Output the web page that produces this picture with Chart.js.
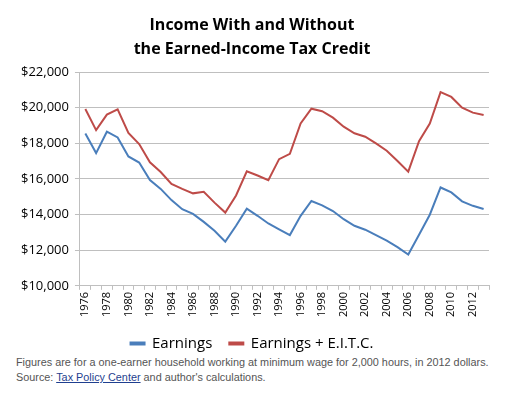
<!DOCTYPE html>
<html>
<head>
<meta charset="utf-8">
<script src="https://cdn.jsdelivr.net/npm/chart.js@4/dist/chart.umd.min.js"></script>
<style>
  body { margin: 0; background: #fff; }
  #wrap { position: relative; width: 526px; height: 393px; }
  #eitc-chart { position: absolute; left: 0; top: 0; }
  #note {
    position: absolute; left: 16px; top: 355px;
    font-family: "Liberation Sans", Arial, sans-serif; font-size: 10.85px;
    line-height: 15px; color: #555;
  }
  #note a { color: #1f3f8f; text-decoration: underline; }
</style>
</head>
<body>
<div id="wrap">
  <div id="note">
    Figures are for a one-earner household working at minimum wage for 2,000 hours, in 2012 dollars.<br>
    Source: <a href="#">Tax Policy Center</a> and author's calculations.
  </div>
  <canvas id="eitc-chart" width="526" height="361"></canvas>
</div>
<script>
// years on the category axis
const years = [];
for (let y = 1976; y <= 2013; y++) years.push(String(y));

// minimum-wage earnings, 2012 dollars
const earnings = [
  18550, 17450, 18650, 18330, 17260, 16920, 15940, 15440, 14810, 14300,
  14040, 13590, 13090, 12480, 13370, 14330, 13930, 13500, 13170, 12850,
  13930, 14760, 14520, 14200, 13740, 13370, 13150, 12840, 12540, 12170,
  11760, 12870, 13990, 15520, 15240, 14740, 14490, 14310
];

// earnings plus EITC
const earningsEitc = [
  19920, 18740, 19610, 19900, 18580, 17960, 16930, 16390, 15720, 15440,
  15190, 15280, 14670, 14110, 15070, 16430, 16190, 15930, 17110, 17410,
  19110, 19940, 19800, 19440, 18930, 18560, 18370, 17990, 17580, 17010,
  16410, 18120, 19110, 20870, 20600, 20000, 19720, 19590
];

const BLUE = "#4a7ebb";
const RED = "#be4b48";
const GRID = "#bfbfbf";
const FONT = "'Open Sans', sans-serif";

new Chart(document.getElementById("eitc-chart").getContext("2d"), {
  type: "line",
  data: {
    labels: years,
    datasets: [
      {
        label: "Earnings",
        data: earnings,
        borderColor: BLUE,
        backgroundColor: BLUE,
        borderWidth: 2,
        pointRadius: 0,
        tension: 0,
        fill: false,
      },
      {
        label: "Earnings + E.I.T.C.",
        data: earningsEitc,
        borderColor: RED,
        backgroundColor: RED,
        borderWidth: 2,
        pointRadius: 0,
        tension: 0,
        fill: false,
      },
    ],
  },
  options: {
    responsive: false,
    animation: false,
    layout: { padding: { left: 15, right: 37, top: 0, bottom: 0 } },
    plugins: {
      title: {
        display: true,
        text: ["Income With and Without", "the Earned-Income Tax Credit"],
        color: "#000",
        font: { family: FONT, size: 16, weight: "bold", lineHeight: 1.5 },
        padding: { top: 13, bottom: 11 },
      },
      legend: {
        position: "bottom",
        labels: {
          color: "#000",
          font: { family: FONT, size: 15 },
          boxWidth: 14,
          boxHeight: 2,
          padding: 17,
        },
      },
      tooltip: { enabled: false },
    },
    scales: {
      x: {
        offset: true,
        grid: {
          offset: true,
          drawOnChartArea: false,
          drawTicks: true,
          tickLength: 4,
          color: GRID,
        },
        border: { color: GRID },
        ticks: {
          autoSkip: false,
          minRotation: 90,
          maxRotation: 90,
          color: "#000",
          font: { family: FONT, size: 11 },
          padding: 2,
          callback: function (value, index) {
            return index % 2 === 0 ? years[index] : "";
          },
        },
      },
      y: {
        min: 10000,
        max: 22000,
        grid: { color: GRID, drawTicks: true, tickLength: 5 },
        border: { color: GRID },
        ticks: {
          stepSize: 2000,
          color: "#000",
          font: { family: FONT, size: 13 },
          padding: 6,
          callback: function (value) {
            return "$" + value.toLocaleString("en-US");
          },
        },
      },
    },
  },
});
</script>
</body>
</html>
